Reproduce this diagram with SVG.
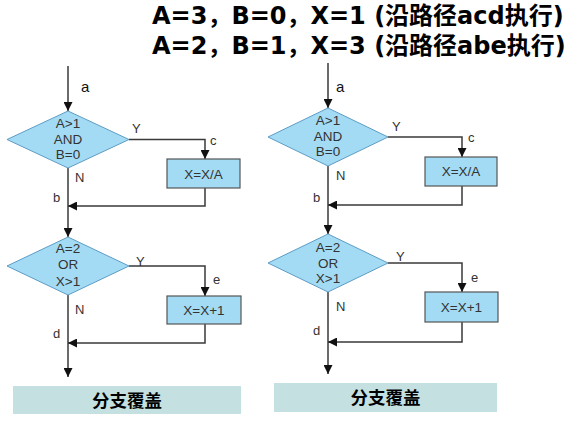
<svg xmlns="http://www.w3.org/2000/svg" width="574" height="424" viewBox="0 0 574 424">
<style>
.title{font-family:"DejaVu Sans","Noto Sans CJK SC",sans-serif;font-weight:bold;font-size:24px;fill:#000}
.dia{fill:#a4dbf4;stroke:#5d9cc4;stroke-width:1}
.box{fill:#a4dbf4;stroke:#555;stroke-width:1.2}
.cap{fill:#c5e0e1}
.t{font-family:"Liberation Sans",Arial,sans-serif;font-size:13.5px;fill:#333;text-anchor:middle}
.l{font-family:"Liberation Sans",Arial,sans-serif;font-size:13px;fill:#333}
.a{font-size:15px;fill:#111}
.ct{font-family:"Noto Sans CJK SC",sans-serif;font-weight:bold;font-size:17.5px;fill:#000;text-anchor:middle}
.ln{fill:none;stroke:#3a3a3a;stroke-width:1.5;marker-end:url(#ah)}
</style>
<defs>
<marker id="ah" viewBox="0 0 10 10" refX="10" refY="5" markerWidth="12" markerHeight="9" markerUnits="userSpaceOnUse" orient="auto">
<path d="M0,0 L10,5 L0,10 z" fill="#111"/>
</marker>
</defs>
<rect width="574" height="424" fill="#fff"/>
<g id="title">
<text class="title" x="152" y="24">A=3，B=0，X=1 (沿路径acd执行)</text>
<text class="title" x="152" y="54">A=2，B=1，X=3 (沿路径abe执行)</text>
</g>
<g id="connectors">
<path class="ln" d="M68,66 V111"/>
<path class="ln" d="M68,168 V237"/>
<path class="ln" d="M68,295 V377"/>
<path class="ln" d="M129,139.5 H205 V159"/>
<path class="ln" d="M205,188 V206 H68"/>
<path class="ln" d="M129,266 H205 V296"/>
<path class="ln" d="M205,324 V343 H68"/>
<path class="ln" d="M328,63 V108"/>
<path class="ln" d="M328,166 V234"/>
<path class="ln" d="M328,292 V374"/>
<path class="ln" d="M388,137 H462 V157"/>
<path class="ln" d="M462,186 V205 H328"/>
<path class="ln" d="M388,263 H462 V292"/>
<path class="ln" d="M462,322 V342 H328"/>
</g>
<g id="labels">
<text class="l a" x="81" y="92">a</text>
<text class="l" x="132" y="133">Y</text>
<text class="l" x="210" y="145">c</text>
<text class="l" x="75" y="182">N</text>
<text class="l" x="53" y="202">b</text>
<text class="l" x="136" y="266">Y</text>
<text class="l" x="213" y="284">e</text>
<text class="l" x="75" y="314">N</text>
<text class="l" x="53" y="338">d</text>
<text class="l a" x="336" y="92">a</text>
<text class="l" x="392" y="131">Y</text>
<text class="l" x="468" y="142">c</text>
<text class="l" x="336" y="180">N</text>
<text class="l" x="313" y="202">b</text>
<text class="l" x="396" y="261">Y</text>
<text class="l" x="471" y="282">e</text>
<text class="l" x="336" y="311">N</text>
<text class="l" x="313" y="335">d</text>
</g>
<g id="L-dec1">
<polygon class="dia" points="68,111 129,139.5 68,168 7,139.5"/>
<text class="t" x="68" y="128">A&gt;1</text>
<text class="t" x="68" y="144">AND</text>
<text class="t" x="68" y="159">B=0</text>
</g>
<g id="L-box1">
<rect class="box" x="167" y="159" width="73" height="29"/>
<text class="t" x="203.5" y="178.5">X=X/A</text>
</g>
<g id="L-dec2">
<polygon class="dia" points="68,237 129,266 68,295 7,266"/>
<text class="t" x="68" y="253">A=2</text>
<text class="t" x="68" y="269">OR</text>
<text class="t" x="68" y="286">X&gt;1</text>
</g>
<g id="L-box2">
<rect class="box" x="167" y="296" width="74" height="28"/>
<text class="t" x="204" y="315">X=X+1</text>
</g>
<g id="L-caption">
<rect class="cap" x="13" y="386" width="228" height="28"/>
<text class="ct" x="127" y="406.5">分支覆盖</text>
</g>
<g id="R-dec1">
<polygon class="dia" points="328,108 388,137 328,166 268,137"/>
<text class="t" x="328" y="125">A&gt;1</text>
<text class="t" x="328" y="141">AND</text>
<text class="t" x="328" y="156">B=0</text>
</g>
<g id="R-box1">
<rect class="box" x="425" y="157" width="72" height="29"/>
<text class="t" x="461" y="176">X=X/A</text>
</g>
<g id="R-dec2">
<polygon class="dia" points="328,234 388,263 328,292 268,263"/>
<text class="t" x="328" y="252">A=2</text>
<text class="t" x="328" y="268">OR</text>
<text class="t" x="328" y="283">X&gt;1</text>
</g>
<g id="R-box2">
<rect class="box" x="425" y="292" width="73" height="30"/>
<text class="t" x="461.5" y="312">X=X+1</text>
</g>
<g id="R-caption">
<rect class="cap" x="274" y="383" width="223" height="29"/>
<text class="ct" x="385.5" y="404">分支覆盖</text>
</g>
</svg>
